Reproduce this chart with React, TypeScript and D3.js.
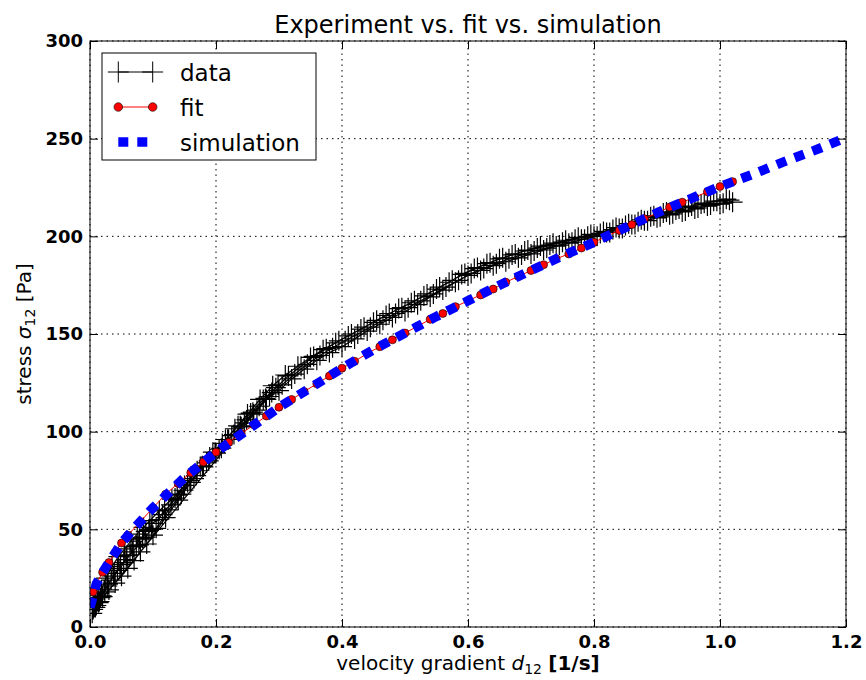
import React, { useEffect, useRef } from "react";
import * as d3 from "d3";

const width = 866;
const height = 680;
const margin = { top: 41, right: 20, bottom: 53, left: 90 };
const font = "DejaVu Sans, Verdana, sans-serif";
const blue = "#0000ff";
const red = "#ff0000";

// axis ticks
const xTicks = [0, 0.2, 0.4, 0.6, 0.8, 1.0, 1.2];
const yTicks = [0, 50, 100, 150, 200, 250, 300];

// measured data, sweep 1 (lower side of the band)
const dataUpX = [0.005, 0.01, 0.015, 0.02, 0.03, 0.04, 0.05, 0.06, 0.07, 0.08, 0.09, 0.1,
  0.12, 0.14, 0.16, 0.18, 0.2, 0.22, 0.24, 0.26, 0.28, 0.3, 0.32, 0.34, 0.36, 0.38, 0.4,
  0.42, 0.44, 0.46, 0.48, 0.5, 0.52, 0.54, 0.56, 0.58, 0.6, 0.62, 0.64, 0.66, 0.68, 0.7,
  0.72, 0.74, 0.76, 0.78, 0.8, 0.82, 0.84, 0.86, 0.88, 0.9, 0.92, 0.94, 0.96, 0.98, 1.0, 1.02];
const dataUpY = [9, 11, 13, 15.5, 19, 22.5, 26, 30, 34, 38.5, 42.5, 47,
  56, 65, 74, 82, 89, 96, 102.5, 109, 116.5, 121, 127, 132, 136.5, 140.5, 143.5,
  147.5, 151.5, 155, 158.5, 161.5, 165, 169, 172.5, 176.5, 180, 182.5, 185, 187, 189, 191,
  193, 195, 196.5, 198.5, 200, 202, 204, 206, 208, 209.5, 211, 212.5, 214, 215.5, 216.5, 217.5];

// sweep 2 (upper side of the band)
const dataDownX = [0.008, 0.013, 0.018, 0.025, 0.035, 0.045, 0.055, 0.065, 0.075, 0.085, 0.095,
  0.11, 0.13, 0.15, 0.17, 0.19, 0.21, 0.23, 0.25, 0.27, 0.29, 0.31, 0.33, 0.35, 0.37, 0.39,
  0.41, 0.43, 0.45, 0.47, 0.49, 0.51, 0.53, 0.55, 0.57, 0.59, 0.61, 0.63, 0.65, 0.67, 0.69,
  0.71, 0.73, 0.75, 0.77, 0.79, 0.81, 0.83, 0.85, 0.87, 0.89, 0.91, 0.93, 0.95, 0.97, 0.99, 1.01];
const dataDownY = [13, 16, 19, 25, 31, 36, 40, 44, 47.5, 51, 54.5,
  59.5, 65.5, 72.5, 80, 87, 94, 101.5, 109, 116.5, 123.5, 129, 133.5, 138, 142, 145.5,
  149, 152.5, 156, 159.5, 163, 166, 169.5, 173, 176.5, 180.5, 183.5, 186, 188.5, 190.5, 192.5,
  194, 195.5, 197, 198.5, 200, 201.5, 203.5, 205.5, 207.5, 210, 212, 213.5, 215, 216.5, 218, 219];

// sweep 3 (middle of the band)
const dataMidX = [0.0065, 0.0115, 0.0165, 0.0225, 0.0275, 0.0375, 0.0475, 0.0575, 0.0675,
  0.0775, 0.0875, 0.0975, 0.105, 0.125, 0.145, 0.165, 0.185, 0.205, 0.225, 0.245, 0.265,
  0.285, 0.305, 0.325, 0.345, 0.365, 0.385, 0.405, 0.425, 0.445, 0.465, 0.485, 0.505,
  0.525, 0.545, 0.565, 0.585, 0.605, 0.625, 0.645, 0.665, 0.685, 0.705, 0.725, 0.745,
  0.765, 0.785, 0.805, 0.825, 0.845, 0.865, 0.885, 0.905, 0.925, 0.945, 0.965, 0.985, 1.005];
const dataMidY = [10, 13, 15, 19, 21, 26, 30, 34.5, 38.5,
  42, 46, 50, 50.5, 60, 68, 76, 84, 91, 98, 104.5, 111,
  118, 124, 129.5, 134.5, 139, 143, 146.5, 150, 153.5, 157, 160.5, 163.5,
  167, 170.5, 174, 177.5, 181, 183.5, 186, 188.5, 190.5, 192.5, 194, 195.5,
  197, 198.5, 200, 202, 204, 206, 208, 210, 211.5, 213, 214.5, 216, 217];

// sweep 4 (middle of the band, shifted)
const dataMid2X = [0.115, 0.135, 0.155, 0.175, 0.195, 0.215, 0.235, 0.255, 0.275, 0.295,
  0.315, 0.335, 0.355, 0.375, 0.395, 0.415, 0.435, 0.455, 0.475, 0.495, 0.515, 0.535,
  0.555, 0.575, 0.595, 0.615, 0.635, 0.655, 0.675, 0.695, 0.715, 0.735, 0.755, 0.775,
  0.795, 0.815, 0.835, 0.855, 0.875, 0.895, 0.915, 0.935, 0.955, 0.975, 0.995, 1.015];
const dataMid2Y = [57.5, 66, 74, 82, 89.5, 96, 103, 109.5, 116.5, 122.5,
  128.5, 133.5, 138.5, 142.5, 146.5, 150, 153.5, 157, 160.5, 163.5, 167, 170.5,
  174, 177.5, 181, 184, 186.5, 189, 191, 193, 195, 196.5, 198, 199.5,
  201, 202.5, 204.5, 206.5, 208.5, 210.5, 212.5, 214, 215.5, 217, 218, 218.5];

// sweep 5 (dense start of the measurement)
const dataLowX = [0.0035, 0.0085, 0.0135, 0.0185, 0.0235, 0.0285, 0.0335, 0.0385, 0.0435, 0.0485,
  0.0535, 0.0585, 0.0635, 0.0685, 0.0735, 0.0785, 0.0835, 0.0885, 0.0935, 0.0985,
  0.1085, 0.1185, 0.1285, 0.1385, 0.1485, 0.1585, 0.1685, 0.1785, 0.1885, 0.1985,
  0.2085, 0.2185, 0.2285, 0.2385, 0.2485, 0.2585, 0.2685, 0.2785, 0.2885, 0.2985];
const dataLowY = [7, 10, 12.5, 16, 18, 22, 24, 27.5, 29, 32,
  33, 36.5, 37, 41, 41.5, 45, 45.5, 49, 49.5, 53,
  55, 60, 62.5, 67.5, 70, 75, 77.5, 82.5, 85, 89.5,
  91.5, 96, 98.5, 103, 106, 110, 113, 117, 120, 124];

// fitted curve
const fitX = [0.005, 0.01, 0.02, 0.03, 0.04, 0.05, 0.06, 0.08, 0.1, 0.12, 0.14, 0.16, 0.18,
  0.2, 0.22, 0.24, 0.26, 0.28, 0.3, 0.32, 0.34, 0.36, 0.38, 0.4, 0.42, 0.44, 0.46, 0.48,
  0.5, 0.52, 0.54, 0.56, 0.58, 0.6, 0.62, 0.64, 0.66, 0.68, 0.7, 0.72, 0.74, 0.76, 0.78,
  0.8, 0.82, 0.84, 0.86, 0.88, 0.9, 0.92, 0.94, 0.96, 0.98, 1.0, 1.02];
const fitY = [18, 22, 28, 33, 38, 43, 47, 54, 61, 68, 73.5, 79, 84.5,
  89.5, 94.5, 99, 103.5, 108, 112.5, 116.5, 120.5, 124.5, 128.5, 132.5, 136, 140, 143.5, 147,
  150.5, 154, 157.5, 160.5, 164, 167, 170, 173, 176.5, 179.5, 182.5, 185.5, 188.5, 191, 194,
  197, 200, 203, 206, 209, 212, 215, 217.5, 220, 222.8, 225.5, 228];

// simulation
const simX = [0, 0.01, 0.02, 0.03, 0.05, 0.07, 0.1, 0.15, 0.2, 0.25, 0.3, 0.35, 0.4, 0.45,
  0.5, 0.55, 0.6, 0.65, 0.7, 0.75, 0.8, 0.85, 0.9, 0.95, 1.0, 1.05, 1.1, 1.15, 1.2];
const simY = [10, 22, 28, 33, 43, 50.5, 61, 76.5, 89.5, 101, 112.5, 122.5, 132.5, 142,
  150.5, 159, 167, 175, 182.5, 190, 197, 204.5, 212, 218.8, 225.5, 231.5, 238, 244, 250.5];

const legendItems = ["data", "fit", "simulation"];

const xScale = d3.scaleLinear().domain([0, 1.2]).range([margin.left, width - margin.right]);
const yScale = d3.scaleLinear().domain([0, 300]).range([height - margin.bottom, margin.top]);

const line = d3
  .line<[number, number]>()
  .x(d => xScale(d[0]))
  .y(d => yScale(d[1]));

const zip = (xs: number[], ys: number[]) => xs.map((x, i) => [x, ys[i]] as [number, number]);

// one polyline through the sweeps in turn
const dataPts = zip(dataLowX, dataLowY)
  .concat(zip(dataUpX, dataUpY))
  .concat(zip(dataDownX, dataDownY).reverse())
  .concat(zip(dataMidX, dataMidY))
  .concat(zip(dataMid2X, dataMid2Y).reverse());
const fitPts = zip(fitX, fitY);
const simPts = zip(simX, simY);

const plus = (cx: number, cy: number, r: number) =>
  `M${cx - r},${cy}H${cx + r}M${cx},${cy - r}V${cy + r}`;

export default function App() {
  const xAxisRef = useRef<SVGGElement>(null);
  const yAxisRef = useRef<SVGGElement>(null);
  const topRef = useRef<SVGGElement>(null);
  const rightRef = useRef<SVGGElement>(null);

  useEffect(() => {
    const style = (g: any) => {
      g.select(".domain").remove();
      g.attr("font-family", font).attr("font-size", 18).attr("font-weight", "bold");
      g.selectAll("text").attr("fill", "#000");
      g.selectAll("line").attr("stroke", "#000");
    };
    d3.select(xAxisRef.current)
      .call(d3.axisBottom(xScale).tickValues(xTicks).tickFormat(d3.format(".1f")).tickSize(-8).tickPadding(8))
      .call(style);
    d3.select(yAxisRef.current)
      .call(d3.axisLeft(yScale).tickValues(yTicks).tickFormat(d3.format("d")).tickSize(-8).tickPadding(7))
      .call(style);
    d3.select(topRef.current)
      .call(d3.axisTop(xScale).tickValues(xTicks).tickFormat(() => "").tickSize(-8))
      .call(style);
    d3.select(rightRef.current)
      .call(d3.axisRight(yScale).tickValues(yTicks).tickFormat(() => "").tickSize(-8))
      .call(style);
  }, []);

  const x0 = xScale(0);
  const x1 = xScale(1.2);
  const y0 = yScale(0);
  const y1 = yScale(300);

  // legend layout
  const lx = 102;
  const ly = 53;
  const rowY = [72, 107, 142];
  const h0 = 118.3;
  const h1 = 152.7;

  return (
    <svg
      width={width}
      height={height}
      style={{ position: "absolute", left: 0, top: 0, background: "#fff" }}
      fontFamily={font}
    >
      <defs>
        <clipPath id="plotClip">
          <rect x={x0} y={y1} width={x1 - x0} height={y0 - y1} />
        </clipPath>
      </defs>
      <rect x={0} y={0} width={width} height={height} fill="#fff" />

      {/* grid */}
      <g stroke="#000" strokeWidth={1} strokeDasharray="1.5 4">
        {xTicks.map(t => (
          <line key={"gx" + t} x1={xScale(t)} x2={xScale(t)} y1={y0} y2={y1} />
        ))}
        {yTicks.map(t => (
          <line key={"gy" + t} x1={x0} x2={x1} y1={yScale(t)} y2={yScale(t)} />
        ))}
      </g>

      <g clipPath="url(#plotClip)">
        {/* data */}
        <path d={line(dataPts) || ""} fill="none" stroke="#000" strokeWidth={1.2} />
        <path
          d={dataPts.map(p => plus(xScale(p[0]), yScale(p[1]), 10)).join("")}
          fill="none"
          stroke="#000"
          strokeWidth={1.2}
        />
        {/* fit */}
        <path d={line(fitPts) || ""} fill="none" stroke={red} strokeWidth={1} />
        {fitPts.map((p, i) => (
          <circle key={i} cx={xScale(p[0])} cy={yScale(p[1])} r={4} fill={red} stroke="#000" strokeWidth={0.6} />
        ))}
        {/* simulation */}
        <path
          d={line(simPts) || ""}
          fill="none"
          stroke={blue}
          strokeWidth={9.5}
          strokeDasharray="10 9"
        />
      </g>

      {/* frame */}
      <rect x={x0} y={y1} width={x1 - x0} height={y0 - y1} fill="none" stroke="#000" strokeWidth={1} />
      <g ref={xAxisRef} transform={`translate(0,${y0})`} />
      <g ref={yAxisRef} transform={`translate(${x0},0)`} />
      <g ref={topRef} transform={`translate(0,${y1})`} />
      <g ref={rightRef} transform={`translate(${x1},0)`} />

      {/* title and labels */}
      <text x={(x0 + x1) / 2} y={33} textAnchor="middle" fontSize={24} fill="#000">
        Experiment vs. fit vs. simulation
      </text>
      <text x={(x0 + x1) / 2} y={670} textAnchor="middle" fontSize={20} fill="#000">
        velocity gradient <tspan fontStyle="italic">d</tspan>
        <tspan fontSize={14} dy={4}>12</tspan>
        <tspan dy={-4}> </tspan>
        <tspan fontWeight="bold">[1/s]</tspan>
      </text>
      <text
        transform={`translate(31,${(y0 + y1) / 2}) rotate(-90)`}
        textAnchor="middle"
        fontSize={20}
        fill="#000"
      >
        stress <tspan fontStyle="italic">σ</tspan>
        <tspan fontSize={14} dy={4}>12</tspan>
        <tspan dy={-4}> [Pa]</tspan>
      </text>

      {/* legend */}
      <rect x={lx} y={ly} width={214} height={107} fill="#fff" stroke="#000" strokeWidth={1} />
      <line x1={h0} x2={h1} y1={rowY[0]} y2={rowY[0]} stroke="#000" />
      <path d={plus(h0, rowY[0], 10.5) + plus(h1, rowY[0], 10.5)} stroke="#000" fill="none" />
      <line x1={h0} x2={h1} y1={rowY[1]} y2={rowY[1]} stroke={red} />
      <circle cx={h0} cy={rowY[1]} r={4.3} fill={red} stroke="#000" strokeWidth={0.6} />
      <circle cx={h1} cy={rowY[1]} r={4.3} fill={red} stroke="#000" strokeWidth={0.6} />
      <line x1={h0} x2={h1} y1={rowY[2]} y2={rowY[2]} stroke={blue} strokeWidth={9.5} strokeDasharray="10 9" />
      {legendItems.map((t, i) => (
        <text key={t} x={180} y={rowY[i] + 8.5} fontSize={23} fill="#000">
          {t}
        </text>
      ))}
    </svg>
  );
}
